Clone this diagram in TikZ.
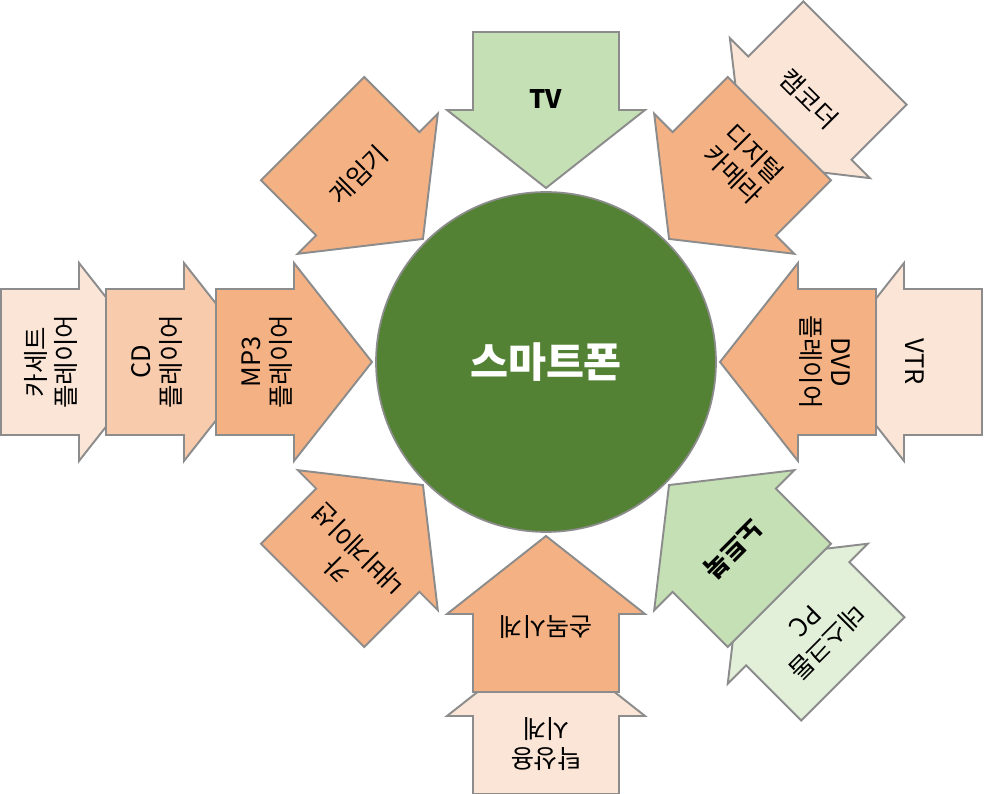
\documentclass[tikz,border=0pt]{standalone}
\usepackage{fontspec}
\setmainfont{Noto Sans CJK KR}
\definecolor{PhoneGreen}{HTML}{548235}
\definecolor{LeafGreen}{HTML}{C5E0B4}
\definecolor{PaleGreen}{HTML}{E2F0D9}
\definecolor{Peach}{HTML}{F4B183}
\definecolor{LightPeach}{HTML}{F8CBAD}
\definecolor{PalePeach}{HTML}{FBE5D6}
\definecolor{EdgeGray}{HTML}{8C8C8C}

\tikzset{
  blockarrow/.style={draw=EdgeGray,line width=1.1pt,line join=miter},
  arrowtext/.style={font=\fontsize{14.5}{17}\selectfont,align=center,inner sep=0pt,anchor=south},
  phone/.style={circle,minimum size=6.8cm,inner sep=0pt,fill=PhoneGreen,draw=EdgeGray,line width=1pt,
    text=white,font=\fontsize{23.5}{28}\selectfont\bfseries},
}

% #1 outward angle, #2 tip distance, #3 fill, #4 node name, #5 text
\newcommand{\feedarrow}[5]{%
  \begin{scope}[shift={(#1:#2)},rotate=#1-90]
    \draw[blockarrow,fill=#3] (0,0) -- (99,78) -- (73,78) -- (73,156) -- (-73,156) -- (-73,78) -- (-99,78) -- cycle;
    \node[arrowtext,rotate=#1-90] (#4) at (0,79) {#5};
  \end{scope}}

\begin{document}
\begin{tikzpicture}[x=0.02cm,y=0.02cm]
  \useasboundingbox (0,0) rectangle (984,794);
  \begin{scope}[shift={(546,432)}]
    \node[phone] (phone) at (0,0) {스마트폰};
    % outer ring
    \feedarrow{180}{389}{PalePeach}{cassette}{카세트\\플레이어}
    \feedarrow{180}{284}{LightPeach}{cd}{CD\\플레이어}
    \feedarrow{0}{280}{PalePeach}{vtr}{VTR}
    \feedarrow{45}{281}{PalePeach}{camcorder}{캠코더}
    \feedarrow{-45}{278}{PaleGreen}{desktop}{데스크톱\\PC}
    \feedarrow{-90}{276}{PalePeach}{clock}{탁상용\\시계}
    % inner ring
    \feedarrow{90}{174}{LeafGreen}{tv}{\textbf{TV}}
    \feedarrow{135}{174}{Peach}{game}{게임기}
    \feedarrow{45}{174}{Peach}{camera}{디지털\\카메라}
    \feedarrow{180}{174}{Peach}{mp3}{MP3\\플레이어}
    \feedarrow{0}{174}{Peach}{dvd}{DVD\\플레이어}
    \feedarrow{-135}{174}{Peach}{navi}{카\\내비게이션}
    \feedarrow{-45}{174}{LeafGreen}{notebook}{\textbf{노트북}}
    \feedarrow{-90}{174}{Peach}{watch}{손목시계}
  \end{scope}
\end{tikzpicture}
\end{document}
